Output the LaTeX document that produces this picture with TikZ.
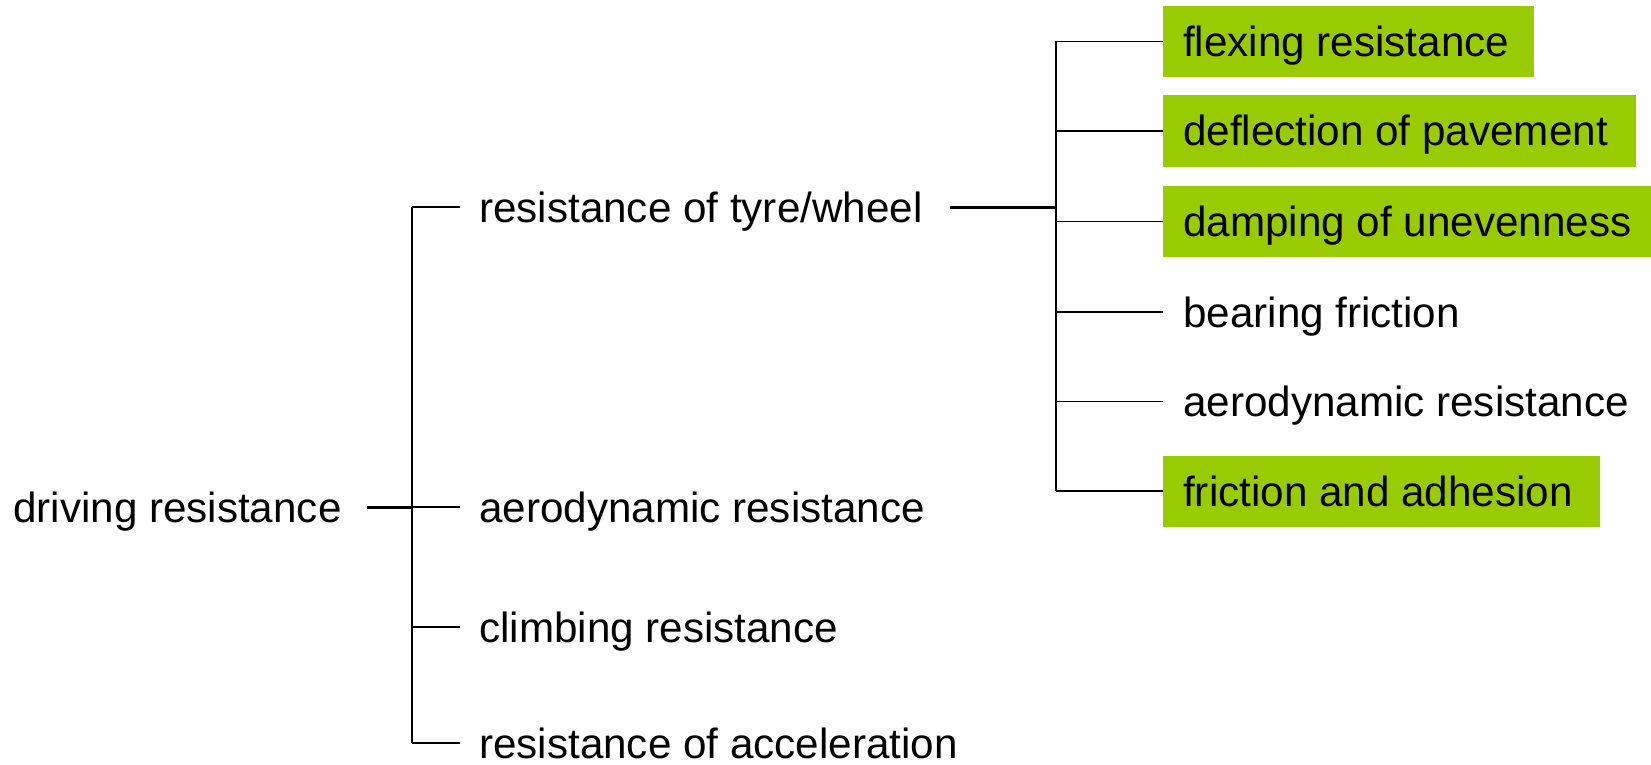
\documentclass[tikz,border=0pt]{standalone}
\usepackage{fontspec}
\setmainfont{Liberation Sans}
\definecolor{leaf}{HTML}{99CC00}
\begin{document}
\begin{tikzpicture}[x=1pt,y=-1pt,
  lbl/.style={anchor=west,inner xsep=0pt,inner ysep=0pt,text height=38pt,text depth=8pt,
    font=\fontsize{42.2}{50}\selectfont},
  leafbox/.style={anchor=west,inner xsep=20pt,inner ysep=0pt,text height=38pt,text depth=8pt,
    minimum height=71pt,font=\fontsize{42.2}{50}\selectfont},
  hl/.style={leafbox,fill=leaf},
  thinln/.style={line width=1.5pt},
  vln/.style={line width=2pt},
  thickln/.style={line width=3pt}]
\useasboundingbox (0,0) rectangle (1651,765);
% level 0
\node[lbl] (dr) at (13,507) {driving resistance};
% level 1
\node[lbl] (tyre)  at (479,207) {resistance of tyre/wheel};
\node[lbl] (aero)  at (479,507) {aerodynamic resistance};
\node[lbl] (climb) at (479,627) {climbing resistance};
\node[lbl] (accel) at (479,743) {resistance of acceleration};
% level 2
\node[hl] (flex) at (1163,41.5) {\makebox[331pt][l]{flexing resistance}};
\node[hl] (defl) at (1163,131) {\makebox[433pt][l]{deflection of pavement}};
\node[hl] (damp) at (1163,221.5) {\makebox[448pt][l]{damping of unevenness}};
\node[leafbox] (bear) at (1163,312) {\makebox[400pt][l]{bearing friction}};
\node[leafbox] (aero2) at (1163,401.5) {\makebox[400pt][l]{aerodynamic resistance}};
\node[hl] (fric) at (1163,491) {\makebox[397pt][l]{friction and adhesion}};
% junctions
\coordinate (drOut) at (367,507);
\coordinate (j1) at (412,507);
\coordinate (j1top) at (412,207);
\coordinate (j1bot) at (412,743);
\coordinate (tyreOut) at (950,207);
\coordinate (j2) at (1056,207);
\coordinate (j2top) at (1056,41.5);
\coordinate (j2bot) at (1056,491);
% connectors level 0 -> 1
\draw[thickln] (drOut) -- (j1);
\draw[vln] (j1top) -- (j1bot);
\draw[thinln] (j1top) -- ([xshift=-19pt]tyre.west);
\draw[thinln] (j1) -- ([xshift=-19pt]aero.west);
\draw[thinln] (412,627) -- ([xshift=-19pt]climb.west);
\draw[thinln] (j1bot) -- ([xshift=-19pt]accel.west);
% connectors level 1 -> 2
\draw[thickln] (tyreOut) -- (j2);
\draw[vln] (j2top) -- (j2bot);
\draw[thinln] (j2top) -- (flex.west);
\draw[thinln] (1056,131) -- (defl.west);
\draw[thinln] (1056,221.5) -- (damp.west);
\draw[thinln] (1056,312) -- (bear.west);
\draw[thinln] (1056,401.5) -- (aero2.west);
\draw[thinln] (j2bot) -- (fric.west);
\end{tikzpicture}
\end{document}
